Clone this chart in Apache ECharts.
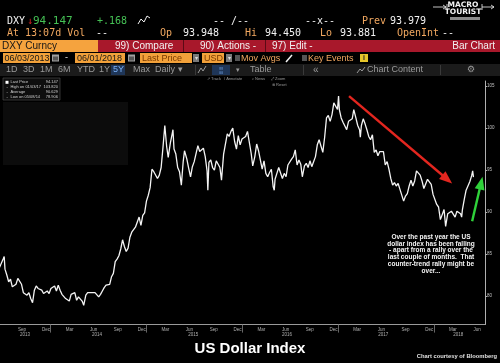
<!DOCTYPE html>
<html><head><meta charset="utf-8">
<script src="https://cdn.jsdelivr.net/npm/echarts@6/dist/echarts.min.js"></script>
<style>html,body{margin:0;padding:0;background:#000;overflow:hidden}#c{width:500px;height:363px}</style>
</head><body><div id="c"></div>
<script>
// ---- data ----
const dates = [
'2013-06-21','2013-06-28','2013-07-05','2013-07-09','2013-07-12','2013-07-19','2013-07-26','2013-08-02','2013-08-09','2013-08-16','2013-08-23','2013-08-30','2013-09-06','2013-09-13','2013-09-20','2013-09-27','2013-10-04','2013-10-11','2013-10-18','2013-10-25','2013-11-01','2013-11-08','2013-11-15','2013-11-22','2013-11-29','2013-12-06','2013-12-13','2013-12-20','2013-12-27',
'2014-01-03','2014-01-10','2014-01-17','2014-01-24','2014-01-31','2014-02-07','2014-02-14','2014-02-21','2014-02-28','2014-03-07','2014-03-14','2014-03-21','2014-03-28','2014-04-04','2014-04-11','2014-04-18','2014-04-25','2014-05-02','2014-05-08','2014-05-16','2014-05-23','2014-05-30','2014-06-06','2014-06-13','2014-06-20','2014-06-27','2014-07-04','2014-07-11','2014-07-18','2014-07-25','2014-08-01','2014-08-08','2014-08-15','2014-08-22','2014-08-29','2014-09-05','2014-09-12','2014-09-19','2014-09-26','2014-10-03','2014-10-10','2014-10-17','2014-10-24','2014-10-31','2014-11-07','2014-11-14','2014-11-21','2014-11-28','2014-12-05','2014-12-12','2014-12-19','2014-12-26',
'2015-01-02','2015-01-09','2015-01-16','2015-01-23','2015-01-30','2015-02-06','2015-02-13','2015-02-20','2015-02-27','2015-03-06','2015-03-13','2015-03-20','2015-03-26','2015-04-03','2015-04-10','2015-04-13','2015-04-17','2015-04-24','2015-05-01','2015-05-08','2015-05-15','2015-05-22','2015-05-27','2015-06-05','2015-06-12','2015-06-19','2015-06-26','2015-07-03','2015-07-10','2015-07-17','2015-07-24','2015-07-31','2015-08-07','2015-08-14','2015-08-21','2015-08-24','2015-08-28','2015-09-04','2015-09-11','2015-09-18','2015-09-25','2015-10-02','2015-10-09','2015-10-15','2015-10-23','2015-10-30','2015-11-06','2015-11-13','2015-11-20','2015-11-27','2015-12-02','2015-12-04','2015-12-11','2015-12-18','2015-12-25',
'2016-01-01','2016-01-08','2016-01-15','2016-01-22','2016-01-29','2016-02-05','2016-02-11','2016-02-19','2016-02-26','2016-03-04','2016-03-11','2016-03-18','2016-03-25','2016-04-01','2016-04-08','2016-04-15','2016-04-22','2016-04-29','2016-05-03','2016-05-06','2016-05-13','2016-05-20','2016-05-27','2016-06-03','2016-06-10','2016-06-17','2016-06-24','2016-07-01','2016-07-08','2016-07-15','2016-07-22','2016-07-29','2016-08-05','2016-08-12','2016-08-18','2016-08-26','2016-09-02','2016-09-09','2016-09-16','2016-09-23','2016-09-30','2016-10-07','2016-10-14','2016-10-21','2016-10-28','2016-11-04','2016-11-11','2016-11-18','2016-11-25','2016-12-02','2016-12-09','2016-12-16','2016-12-23','2016-12-30',
'2017-01-03','2017-01-06','2017-01-13','2017-01-20','2017-01-27','2017-02-03','2017-02-10','2017-02-17','2017-02-24','2017-03-02','2017-03-10','2017-03-17','2017-03-24','2017-03-27','2017-03-31','2017-04-07','2017-04-14','2017-04-21','2017-04-28','2017-05-05','2017-05-12','2017-05-19','2017-05-26','2017-06-02','2017-06-09','2017-06-16','2017-06-23','2017-06-30','2017-07-07','2017-07-14','2017-07-21','2017-07-28','2017-08-04','2017-08-11','2017-08-18','2017-08-25','2017-09-01','2017-09-08','2017-09-15','2017-09-22','2017-09-29','2017-10-06','2017-10-13','2017-10-20','2017-10-27','2017-11-03','2017-11-10','2017-11-17','2017-11-24','2017-12-01','2017-12-08','2017-12-15','2017-12-22','2017-12-29',
'2018-01-05','2018-01-12','2018-01-19','2018-01-26','2018-02-02','2018-02-09','2018-02-15','2018-02-23','2018-03-02','2018-03-09','2018-03-16','2018-03-23','2018-03-30','2018-04-06','2018-04-13','2018-04-17','2018-04-20','2018-04-27','2018-05-04','2018-05-11','2018-05-18','2018-05-25','2018-05-29','2018-06-01'];
const values = [
83.4,83.2,84.4,84.7,83.2,82.5,81.7,82.0,81.1,81.2,81.4,82.1,82.2,81.4,80.4,80.4,80.1,80.4,79.7,79.2,80.7,81.2,80.9,80.9,80.7,80.3,80.2,80.6,80.3,
80.9,80.7,81.2,80.6,81.3,80.7,80.2,80.2,79.7,79.7,79.4,80.2,80.1,80.4,79.5,79.9,79.8,79.4,78.9,80.1,80.4,80.4,80.4,80.6,80.4,80.2,79.9,80.2,80.6,81.0,81.3,81.4,81.4,82.3,82.7,84.1,84.4,84.8,85.6,86.7,85.9,85.3,85.7,87.0,87.6,87.6,88.2,88.4,89.4,88.4,89.6,89.9,
91.3,92.0,92.9,95.1,94.8,94.6,94.0,94.4,95.3,97.7,100.3,97.8,96.5,98.2,99.3,99.8,97.5,96.9,95.3,94.8,93.2,96.0,97.3,96.3,95.2,94.2,95.4,96.0,96.0,97.9,97.2,97.3,97.6,96.6,94.9,92.6,95.9,96.2,95.3,95.0,96.1,96.1,95.3,93.8,96.9,96.9,99.3,99.0,99.6,100.0,100.2,98.4,97.5,99.1,98.0,
98.7,98.5,99.0,99.6,99.6,97.0,95.5,96.6,98.1,97.3,96.2,95.1,96.1,94.6,94.2,94.7,95.1,93.0,92.6,93.9,94.6,95.3,95.5,94.0,94.6,94.2,95.6,95.6,96.3,96.6,97.4,95.6,96.2,95.7,94.2,95.5,95.8,95.3,96.1,95.4,95.4,96.6,98.0,98.6,98.4,97.1,98.9,101.2,101.5,100.8,101.6,103.0,103.0,102.2,
103.8,102.2,101.2,100.7,100.5,99.8,100.8,100.9,101.1,102.2,101.2,100.3,99.8,98.9,100.3,101.1,100.5,99.8,99.0,98.6,99.2,97.1,97.4,96.7,97.2,97.1,97.2,95.6,96.0,95.1,94.0,93.2,93.5,93.1,93.4,92.7,92.8,91.3,91.9,92.2,93.1,93.8,93.1,93.7,94.9,94.8,94.4,93.7,92.8,92.9,93.9,93.9,93.3,92.1,
91.9,90.9,90.6,89.1,89.2,90.3,88.3,89.8,89.9,90.1,90.2,89.4,90.1,90.1,89.8,89.4,90.3,91.5,92.6,92.5,93.6,94.3,94.9,94.147];
const monthTickDates = ['2013-09-15','2013-12-15','2014-03-15','2014-06-15','2014-09-15','2014-12-15','2015-03-15','2015-06-15','2015-09-15','2015-12-15','2016-03-15','2016-06-15','2016-09-15','2016-12-15','2017-03-15','2017-06-15','2017-09-15','2017-12-15','2018-03-15','2018-06-15'];
const monthTickLabels = ['Sep','Dec','Mar','Jun','Sep','Dec','Mar','Jun','Sep','Dec','Mar','Jun','Sep','Dec','Mar','Jun','Sep','Dec','Mar','Jun'];
const yearLabelDates = ['2013-09-26','2014-06-28','2015-06-29','2016-06-21','2017-06-22','2018-04-04'];
const yearLabels = ['2013','2014','2015','2016','2017','2018'];
const yearBoundaryDates = ['2014-01-01','2015-01-01','2016-01-01','2017-01-01','2018-01-01'];
const redArrow = [['2017-02-12',103.8],['2018-02-21',93.9]];
const greenArrow = [['2018-05-27',88.9],['2018-06-30',93.45]];
const axisStart = '2013-06-23', axisEnd = '2018-07-15';
const legendRows = [['Last Price','94.147'],['High on 01/03/17','103.820'],['Average','90.629'],['Low on 05/08/14','78.906']];
const noteLines = ['Over the past year the US','dollar index has been falling','- apart from a rally over the','last couple of months.  That','counter-trend rally might be','over...'];

// ---- helpers ----
function dn(s){const p=s.split('-');return Math.round(Date.UTC(+p[0],+p[1]-1,+p[2])/86400000);}
function nearestLabel(v,ds,ls){let bi=0,bd=Infinity;ds.forEach((d,i)=>{const dd=Math.abs(dn(d)-v);if(dd<bd){bd=dd;bi=i;}});return ls[bi];}
const MONO='"DejaVu Sans Mono", monospace', SANS='"Liberation Sans", Arial, sans-serif';
function T(x,y,text,fill,size,family,o){o=o||{};return {type:'text',x:x,y:y,silent:true,z:20,style:{text:text,fill:fill,font:(o.bold?'bold ':'')+size+'px '+family,align:o.align||'left',verticalAlign:'middle',textAlign:o.align||'left',textVerticalAlign:'middle'}};}
function R(x,y,w,h,fill,stroke){return {type:'rect',silent:true,z:15,shape:{x:x,y:y,width:w,height:h},style:{fill:fill,stroke:stroke||null,lineWidth:stroke?0.6:0}};}
function L(pts,stroke,w){return {type:'polyline',silent:true,z:20,shape:{points:pts},style:{stroke:stroke,lineWidth:w||1,fill:null}};}

const AMB='#f2a860', GRN='#45c255', WH='#f2f2f2', GR='#9a9a9a';
const g = [];
// row 1
g.push(T(7,21,'DXY',WH,10,MONO), T(27,21,'↓','#e02525',10,MONO), T(33,21,'94.147',GRN,11,MONO), T(97,21,'+.168',GRN,10,MONO));
g.push(L([[138,24],[141,19],[144,22],[147,16],[150,18]],WH,1));
g.push(T(213,21,'-- /--',WH,10,MONO), T(305,21,'--x--',WH,10,MONO), T(362,21,'Prev',AMB,10,MONO), T(390,21,'93.979',WH,10,MONO));
// logo
g.push(T(463,5.5,'MACRO',WH,7.5,'"DejaVu Sans", sans-serif',{bold:true,align:'center'}), T(463,12,'TOURIST',WH,7.5,'"DejaVu Sans", sans-serif',{bold:true,align:'center'}));
g.push(L([[433,7],[446,7]],WH,0.8), L([[443,5],[446,7],[443,9]],WH,0.8), L([[447,4],[447,10]],WH,0.8));
g.push(L([[482,4],[482,10]],WH,0.8), L([[482,7],[494,7]],WH,0.8), L([[491,5],[494,7],[491,9]],WH,0.8));
g.push(R(450,17,30,3,'#8a8a8a'));
// row 2
g.push(T(7,33.5,'At 13:07d Vol',AMB,10,MONO), T(96,33.5,'--',WH,10,MONO), T(160,33.5,'Op',AMB,10,MONO), T(183,33.5,'93.948',WH,10,MONO),
 T(245,33.5,'Hi',AMB,10,MONO), T(265,33.5,'94.450',WH,10,MONO), T(320,33.5,'Lo',AMB,10,MONO), T(340,33.5,'93.881',WH,10,MONO),
 T(397,33.5,'OpenInt',AMB,10,MONO), T(442,33.5,'--',WH,10,MONO));
// row 3
g.push(R(0,40,98,12,'#f5a33e'), T(2,46.5,'DXY Curncy','#161616',10,SANS));
g.push(R(98,40,402,12,'#a8182b'), R(183,40,1,12,'#5c0a15'), R(265,40,1,12,'#5c0a15'));
g.push(T(115,46.5,'99) Compare',WH,10,SANS), T(200,46.5,'90) Actions -',WH,10,SANS), T(272,46.5,'97) Edit -',WH,10,SANS), T(495,46.5,'Bar Chart',WH,10,SANS,{align:'right'}));
// row 4
g.push(R(3,53,47,10,'#f2a13a'), T(4.5,58.2,'06/03/2013','#161616',9,SANS));
g.push(R(52,54.5,7,7,'#a0a0a0'), R(53,56.5,5,4,'#555'));
g.push(T(65,58,'-',WH,9,SANS));
g.push(R(75,53,50,10,'#f2a13a'), T(77,58.2,'06/01/2018','#161616',9,SANS));
g.push(R(128,54.5,7,7,'#a0a0a0'), R(129,56.5,5,4,'#555'));
g.push(R(140,53,52,10,'#f2a13a'), T(142,58.2,'Last Price','#7a3a00',9,SANS));
g.push(R(193,54,6,8,'#7a7a7a'), T(196,58,'▾','#ddd',6,SANS,{align:'center'}));
g.push(R(202,53,22,10,'#f2a13a'), T(204,58.2,'USD','#7a3a00',9,SANS));
g.push(R(226,54,6,8,'#7a7a7a'), T(229,58,'▾','#ddd',6,SANS,{align:'center'}));
g.push(R(235,55,5,6,'#555'), T(241,58.2,'Mov Avgs',AMB,9,SANS));
g.push(L([[286,62],[292,55]],WH,1.5));
g.push(R(302,55,5,6,'#555'), T(308,58.2,'Key Events',AMB,9,SANS));
g.push(R(360,54,8,8,'#e6c52a'), T(364,58,'i','#222',7,SANS,{align:'center',bold:true}));
// row 5
g.push(R(0,64,500,12,'#1b1b1b'));
[['1D',6],['3D',23],['1M',40],['6M',58],['YTD',77],['1Y',99],['Max',133],['Daily ▾',155]].forEach(a=>g.push(T(a[1],70,a[0],GR,9,SANS)));
g.push(R(111,65,14,10,'#1f3658'), T(113,70,'5Y','#78aef5',9,SANS));
g.push(R(195,65,1,10,'#3a3a3a'), L([[198,73],[201,68],[203,71],[206,66]],'#9a9a9a',1));
g.push(R(212,65,18,10,'#1f3658'), T(221,70,'¦¦','#78aef5',8,SANS,{align:'center'}), T(236,70,'▾',GR,7,SANS));
g.push(T(250,70,'Table',GR,9,SANS), R(303,65,1,10,'#3a3a3a'), T(313,70,'«',GR,10,SANS));
g.push(L([[357,73],[360,69],[362,71],[365,67]],'#9a9a9a',1), T(367,70,'Chart Content',GR,9,SANS), R(440,65,1,10,'#3a3a3a'), T(467,70,'⚙',GR,9,'"DejaVu Sans", sans-serif'));
// row 6 tiny tools
g.push(T(207,79,'↗ Track',GR,4,SANS), T(224,79,'/ Annotate',GR,4,SANS), T(252,79,'⌕ News',GR,4,SANS), T(271,79,'⤢ Zoom',GR,4,SANS), T(272,84.5,'⊗ Reset',GR,4,SANS));
// chart legend box
g.push(R(3,102,125,63,'#0c0c0c'));
g.push(R(3,78,57,22,'#0e0e0e','#555'));
legendRows.forEach((r,i)=>{const y=82.3+i*5;
  if(i===0) g.push(R(5.5,y-1.5,3,3,'#fff')); else g.push(T(6.5,y,'-','#bbb',4,SANS));
  g.push(T(10.5,y,r[0],'#cfcfcf',4,SANS), T(58,y,r[1],'#cfcfcf',4,SANS,{align:'right'}));});
// note
noteLines.forEach((s,i)=>g.push(T(431,237.3+i*6.7,s,'#f4f4f4',6.5,SANS,{bold:true,align:'center'})));
// titles
g.push(T(250,349,'US Dollar Index','#ffffff',15,SANS,{bold:true,align:'center'}));
g.push(T(497,356,'Chart courtesy of Bloomberg','#e0e0e0',5.8,SANS,{bold:true,align:'right'}));

const seriesData = dates.map((d,i)=>[dn(d),values[i]]);
const last = values[values.length-1];
const arrowLine = (pts,color)=>[
  {coord:[dn(pts[0][0]),pts[0][1]],symbol:'none',lineStyle:{color:color,width:2.4,type:'solid',opacity:1}},
  {coord:[dn(pts[1][0]),pts[1][1]],symbol:'triangle',symbolSize:[10,13],lineStyle:{color:color,width:2.4,type:'solid',opacity:1},itemStyle:{color:color}}];

const chart = echarts.init(document.getElementById('c'),null,{renderer:'canvas'});
chart.setOption({
  backgroundColor:'#000',
  animation:false,
  grid:{left:0,right:15,top:81,bottom:38.4,containLabel:false,outerBoundsMode:'none'},
  xAxis:[{
    type:'value',min:dn(axisStart),max:dn(axisEnd),
    axisLine:{show:true,lineStyle:{color:'#9a9a9a',width:1}},
    axisTick:{show:true,customValues:yearBoundaryDates.map(dn),length:8,lineStyle:{color:'#666'}},
    axisLabel:{show:true,customValues:monthTickDates.map(dn),color:'#b0b0b0',fontSize:4.5,margin:2.5,fontFamily:SANS,
      formatter:v=>nearestLabel(v,monthTickDates,monthTickLabels)},
    splitLine:{show:false}
  },{
    type:'value',min:dn(axisStart),max:dn(axisEnd),position:'bottom',
    axisLine:{show:false},axisTick:{show:false},splitLine:{show:false},
    axisLabel:{show:true,customValues:yearLabelDates.map(dn),color:'#b0b0b0',fontSize:4.5,margin:7.5,fontFamily:SANS,
      formatter:v=>nearestLabel(v,yearLabelDates,yearLabels)}
  }],
  yAxis:{type:'value',position:'right',min:76.6,max:105.6,
    axisLine:{show:true,lineStyle:{color:'#b0b0b0',width:1}},
    axisTick:{show:true,length:2,lineStyle:{color:'#b0b0b0'}},
    axisLabel:{color:'#c0c0c0',fontSize:4.5,margin:2,showMinLabel:false,showMaxLabel:false,fontFamily:SANS},
    splitLine:{show:false}},
  series:[{type:'line',xAxisIndex:0,data:seriesData,showSymbol:false,symbol:'none',
    lineStyle:{color:'#f4f4f4',width:1.3},
    markLine:{silent:true,animation:false,symbol:['none','none'],label:{show:false},
      data:[arrowLine(redArrow,'#e3261f'),arrowLine(greenArrow,'#2fd13a'),
        {yAxis:last,symbol:'none',lineStyle:{opacity:0},
         label:{show:true,position:'end',distance:1,formatter:last.toFixed(3),color:'#111',backgroundColor:'#e8e8e8',fontSize:4.5,padding:[1,1.5],fontFamily:SANS}}]}}],
  graphic:{elements:g}
});
</script></body></html>
